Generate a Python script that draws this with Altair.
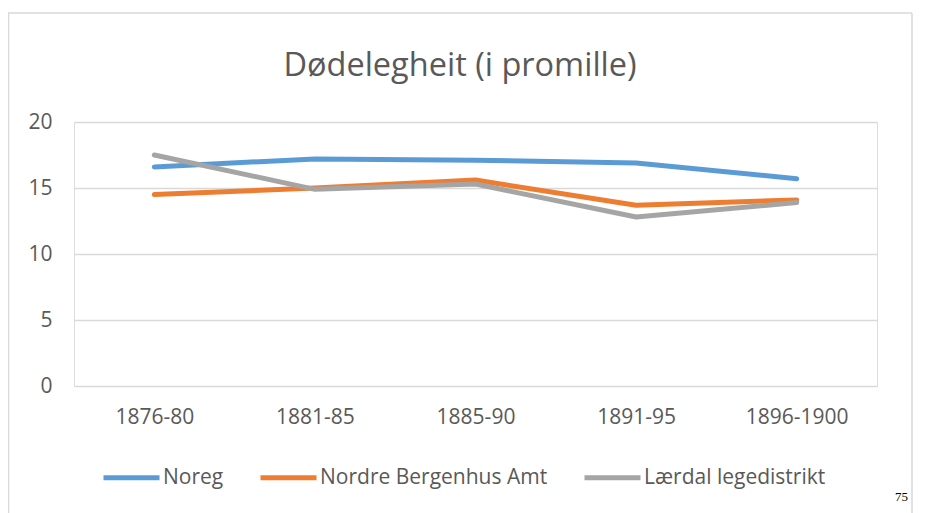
import altair as alt
import pandas as pd

periods = ["1876-80", "1881-85", "1885-90", "1891-95", "1896-1900"]
series_names = ["Noreg", "Nordre Bergenhus Amt", "Lærdal legedistrikt"]
noreg = [16.6, 17.2, 17.1, 16.9, 15.7]
nordre = [14.5, 15.0, 15.6, 13.7, 14.1]
laerdal = [17.5, 14.9, 15.3, 12.8, 13.9]
colors = ["#5B9BD5", "#ED7D31", "#A5A5A5"]
title_text = "Dødelegheit (i promille)"
page_no = "75"

rows = []
for name, vals in zip(series_names, [noreg, nordre, laerdal]):
    for p, v in zip(periods, vals):
        rows.append({"period": p, "series": name, "value": v})
df = pd.DataFrame(rows)

FONT = "Open Sans"
GRID = "#D9D9D9"
TXT = "#595959"
W, H = 803, 264

lines = alt.Chart(df).mark_line(strokeWidth=5, strokeCap="round", strokeJoin="round").encode(
    x=alt.X("period:N", sort=periods, title=None,
            scale=alt.Scale(type="point", padding=0.5),
            axis=alt.Axis(labelAngle=0, ticks=False, domain=False, grid=False,
                          labelFont=FONT, labelFontSize=21, labelColor=TXT, labelPadding=20)),
    y=alt.Y("value:Q", title=None,
            scale=alt.Scale(domain=[0, 20], nice=False),
            axis=alt.Axis(values=[0, 5, 10, 15, 20], ticks=False, domain=False,
                          gridColor=GRID, gridWidth=1.3,
                          labelFont=FONT, labelFontSize=21, labelColor=TXT, labelPadding=22)),
    color=alt.Color("series:N", sort=series_names,
                    scale=alt.Scale(domain=series_names, range=colors),
                    legend=alt.Legend(title=None, orient="none", legendX=27, legendY=325,
                                      direction="horizontal", symbolType="stroke",
                                      symbolStrokeWidth=5, symbolSize=3136,
                                      labelFont=FONT, labelFontSize=21, labelColor=TXT,
                                      labelLimit=0, labelOffset=1, columnPadding=26, padding=0)),
    order=alt.Order("series_order:Q"),
).transform_calculate(
    series_order="indexof(['Noreg','Nordre Bergenhus Amt','Lærdal legedistrikt'], datum.series)"
)

one = pd.DataFrame({"t": [title_text]})
title = alt.Chart(one).mark_text(font=FONT, fontSize=32.5, color=TXT, baseline="middle", align="center").encode(
    text="t:N", x=alt.value(386), y=alt.value(-56))

pg = alt.Chart(pd.DataFrame({"t": [page_no]})).mark_text(
    font="Liberation Serif", fontSize=13, color="#000000", baseline="middle", align="right").encode(
    text="t:N", x=alt.value(834), y=alt.value(375))

b = pd.DataFrame({"k": [0]})
left_b = alt.Chart(b).mark_rule(color=GRID, strokeWidth=1.5).encode(
    x=alt.value(-65.5), y=alt.value(-109), y2=alt.value(400))
top_b = alt.Chart(b).mark_rule(color=GRID, strokeWidth=1.5).encode(
    x=alt.value(-66), x2=alt.value(838), y=alt.value(-109))
right_b = alt.Chart(b).mark_rule(color=GRID, strokeWidth=1.5).encode(
    x=alt.value(838), y=alt.value(-109), y2=alt.value(400))

chart = alt.layer(left_b, top_b, right_b, lines, title, pg).properties(
    width=W, height=H,
    autosize=alt.AutoSizeParams(type="none"),
    padding={"left": 66, "top": 114, "right": 42, "bottom": 127},
).configure_view(stroke=None).configure(background="white")

chart.save("out.html", embed_options={"renderer": "svg", "actions": False})
